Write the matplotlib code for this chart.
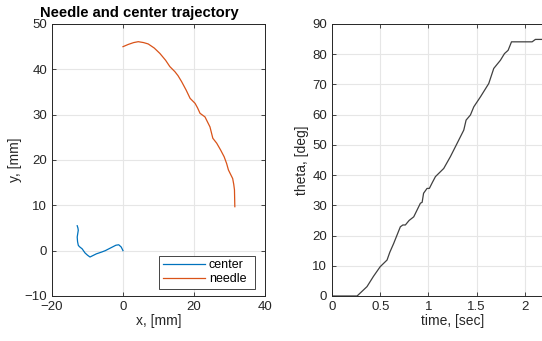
import numpy as np
import matplotlib.pyplot as plt

plt.rcParams['font.family'] = ['Liberation Sans', 'DejaVu Sans']

# center trajectory [mm]
center_x = [0, -0.5, -1.2, -2.0, -3.5, -5.0, -6.0, -7.5, -9.3, -10.0, -10.7, -11.5, -12.3, -12.6, -12.8, -12.9, -12.6, -12.7, -12.9]
center_y = [0, 0.8, 1.3, 1.2, 0.6, 0.0, -0.3, -0.7, -1.4, -1.0, -0.5, 0.4, 0.9, 1.2, 2.0, 3.0, 4.5, 5.0, 5.5]

# needle trajectory [mm]
needle_x = [0, 1.5, 3.0, 4.3, 5.8, 7.1, 8.8, 10.4, 12.0, 13.2, 14.6, 15.5, 16.5, 17.8, 18.9, 20.3, 21.0, 21.7, 23.1,
            24.5, 25.3, 26.4, 27.5, 28.5, 29.2, 29.7, 30.9, 31.2, 31.4, 31.5]
needle_y = [45.0, 45.5, 45.9, 46.1, 45.9, 45.6, 44.7, 43.5, 42.0, 40.6, 39.5, 38.6, 37.3, 35.4, 33.6, 32.5, 31.5, 30.3, 29.5,
            27.3, 24.8, 23.7, 22.2, 20.7, 19.2, 17.8, 15.9, 14.6, 13.4, 9.7]

# needle angle
time_s = [0, 0.26, 0.30, 0.363, 0.43, 0.50, 0.571, 0.60, 0.640, 0.709, 0.735, 0.761, 0.80, 0.848, 0.917, 0.935, 0.95,
          0.986, 1.01, 1.04, 1.073, 1.159, 1.228, 1.315, 1.367, 1.391, 1.436, 1.471, 1.540, 1.626, 1.678, 1.747,
          1.789, 1.827, 1.862, 1.990, 2.076, 2.11, 2.2, 2.5]
theta_deg = [0, 0, 1.2, 3.1, 6.5, 9.7, 11.9, 14.5, 17.4, 22.9, 23.5, 23.5, 25.0, 26.2, 30.7, 31.0, 34.0,
             35.6, 35.6, 37.5, 39.5, 42.2, 46.1, 51.6, 54.9, 58.2, 59.9, 62.6, 65.9, 70.3, 75.3, 78.0,
             80.2, 81.3, 84.1, 84.1, 84.1, 84.9, 84.9, 84.9]

spine_col = '#262626'
grid_col = '#e6e6e6'

fig = plt.figure(figsize=(5.42, 3.41), dpi=100)
ax1 = fig.add_axes([52 / 542, 45 / 341, 213 / 542, 272 / 341])
ax2 = fig.add_axes([332 / 542, 45 / 341, 241 / 542, 272 / 341])

for ax in (ax1, ax2):
    ax.grid(True, color=grid_col, linewidth=0.8)
    ax.set_axisbelow(True)
    ax.tick_params(direction='in', top=True, right=True, labelsize=9.5, colors=spine_col, length=3, width=0.6)
    for s in ax.spines.values():
        s.set_color(spine_col)
        s.set_linewidth(0.7)

ax1.plot(center_x, center_y, color='#0072BD', linewidth=0.9, label='center')
ax1.plot(needle_x, needle_y, color='#D95319', linewidth=0.9, label='needle')
ax1.set_xlim(-20, 40)
ax1.set_ylim(-10, 50)
ax1.set_xticks([-20, 0, 20, 40])
ax1.set_yticks(np.arange(-10, 51, 10))
ax1.set_xlabel('x, [mm]', fontsize=10, color=spine_col, labelpad=1)
ax1.set_ylabel('y, [mm]', fontsize=10, color=spine_col, labelpad=2)
ax1.set_title('Needle and center trajectory', fontsize=10.6, fontweight='bold', pad=5, x=0.408)
leg = ax1.legend(loc='lower left', fontsize=9, fancybox=False, framealpha=1,
                 bbox_to_anchor=(0.502, 0.026, 0.451, 0.129), mode='expand', borderaxespad=0,
                 handlelength=3.4, handletextpad=0.3, labelspacing=0.15, borderpad=0.3,
                 edgecolor=spine_col)
leg.get_frame().set_linewidth(0.6)

ax2.plot(time_s, theta_deg, color='#404040', linewidth=0.9)
ax2.set_xlim(0, 2.5)
ax2.set_ylim(0, 90)
ax2.set_xticks([0, 0.5, 1, 1.5, 2])
ax2.set_xticklabels(['0', '0.5', '1', '1.5', '2'])
ax2.set_yticks(np.arange(0, 91, 10))
ax2.set_xlabel('time, [sec]', fontsize=10, color=spine_col, labelpad=1)
ax2.set_ylabel('theta, [deg]', fontsize=10, color=spine_col, labelpad=2)

fig.savefig('out.png', dpi=100)
